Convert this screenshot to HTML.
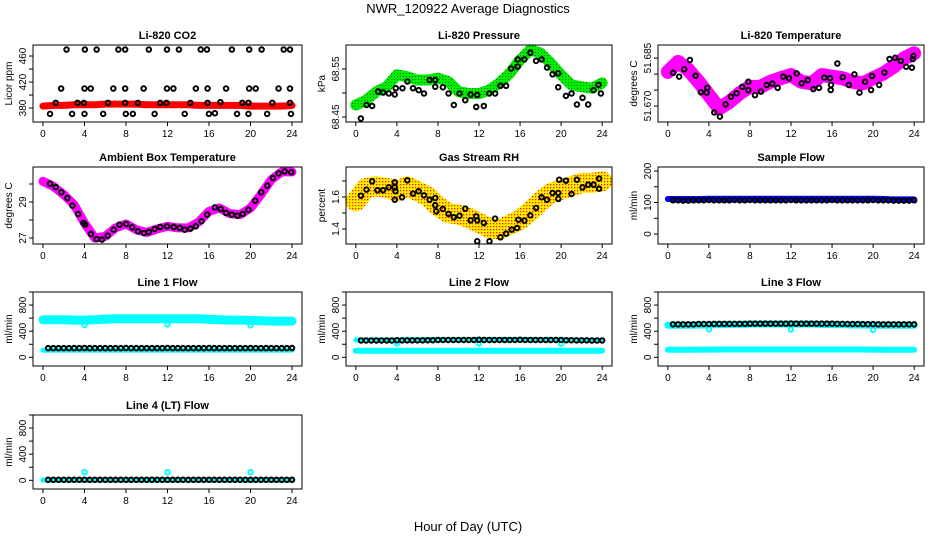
<!DOCTYPE html>
<html><head><meta charset="utf-8"><style>
html,body{margin:0;padding:0;background:#fff;}
svg{display:block;font-family:"Liberation Sans",Arial,sans-serif;}
</style></head><body>
<svg id="chart" width="936" height="540" viewBox="0 0 936 540" xmlns="http://www.w3.org/2000/svg">
<defs>
<pattern id="pgreen" width="3" height="3" patternUnits="userSpaceOnUse"><rect width="3" height="3" fill="#00ee00"/><rect x="1" y="1" width="1" height="1" fill="#226622"/></pattern>
<pattern id="pyellow" width="3" height="3" patternUnits="userSpaceOnUse"><rect width="3" height="3" fill="#ffee00"/><rect x="1" y="1" width="1.3" height="1.3" fill="#ee2200"/></pattern>
</defs>
<text x="468" y="13" text-anchor="middle" font-size="13">NWR_120922  Average Diagnostics</text>
<text x="468" y="531" text-anchor="middle" font-size="13">Hour of Day (UTC)</text>
</svg>
<script>
// ---- data ----
const hours = [0,1,2,3,4,5,6,7,8,9,10,11,12,13,14,15,16,17,18,19,20,21,22,23,24];
const halfHours = [0.5,1,1.5,2,2.5,3,3.5,4,4.5,5,5.5,6,6.5,7,7.5,8,8.5,9,9.5,10,10.5,11,11.5,12,12.5,13,13.5,14,14.5,15,15.5,16,16.5,17,17.5,18,18.5,19,19.5,20,20.5,21,21.5,22,22.5,23,23.5,24];
const co2Band = [383,384,384,385,385,385,386,386,386,386,385,385,385,385,385,384,384,384,384,384,383,383,383,383,384];
const co2BlackH = [2.27,4.04,5.17,7.27,7.92,10.2,11.95,13.1,15.2,15.8,18.2,19.87,21.07,23.2,23.8,
 1.75,4.0,4.6,6.78,7.92,9.7,11.95,12.57,14.73,15.86,17.64,19.87,20.5,22.7,23.8,
 1.23,3.33,3.94,6.26,7.92,9.14,11.3,11.9,14.2,15.86,17.1,19.2,19.8,22.1,23.8,
 0.68,2.81,4.0,5.8,7.98,8.66,10.76,13.66,15.99,16.57,18.7,19.8,21.6,23.9];
const co2BlackV = [470,470,470,470,470,470,470,470,470,470,470,470,470,470,470,
 410,410,410,410,410,410,410,410,410,410,410,410,410,410,410,
 388,388,388,388,388,388,388,388,388,388,389,388,388,388,388,
 371,371,371,371,371,371,371,371,371,372,371,371,371,371];
const presBand = [68.475,68.485,68.503,68.513,68.538,68.534,68.527,68.527,68.531,68.524,68.503,68.499,68.499,68.506,68.521,68.541,68.569,68.590,68.583,68.562,68.538,68.517,68.513,68.510,68.521];
const presBlackH = [0.49,1.04,1.59,2.17,2.66,3.21,3.79,3.89,4.54,5.02,5.57,6.12,6.64,7.19,7.74,7.74,8.48,9.03,9.55,10.1,10.66,11.18,11.73,11.83,12.47,13.0,13.57,14.09,14.64,15.13,15.77,15.77,16.42,17.0,17.56,18.1,18.63,19.17,19.72,19.72,20.47,21.02,21.54,22.09,22.64,23.16,23.64,23.88];
const presBlackV = [68.447,68.475,68.473,68.503,68.501,68.499,68.497,68.510,68.510,68.524,68.510,68.506,68.499,68.527,68.513,68.527,68.512,68.499,68.475,68.499,68.485,68.497,68.471,68.496,68.473,68.499,68.499,68.515,68.515,68.551,68.570,68.555,68.570,68.584,68.567,68.570,68.553,68.539,68.541,68.512,68.494,68.499,68.476,68.490,68.476,68.506,68.517,68.499];
const tempBand = [51.6807,51.6838,51.6813,51.6776,51.6734,51.6693,51.6713,51.6740,51.6760,51.6760,51.6776,51.6787,51.6797,51.6776,51.6771,51.6797,51.6792,51.6787,51.6776,51.6771,51.6787,51.6802,51.6823,51.6849,51.6865];
const tempBlackH = [0.52,1.1,1.59,2.15,2.7,3.22,3.77,3.84,4.52,5.07,5.63,6.15,6.7,7.25,7.84,7.84,8.49,9.07,9.63,10.18,10.7,11.25,11.8,12.55,13.04,13.63,14.18,14.73,15.25,15.8,15.9,15.87,16.52,17.04,17.63,18.18,18.67,19.22,19.8,19.9,20.59,21.1,21.6,22.15,22.7,23.22,23.78,23.87,23.93];
const tempBlackV = [51.6804,51.6792,51.6815,51.6844,51.6795,51.6743,51.6742,51.6757,51.6680,51.6667,51.6705,51.6729,51.6740,51.6760,51.6750,51.6776,51.6734,51.6745,51.6766,51.6770,51.6757,51.6792,51.6787,51.6802,51.6771,51.6781,51.6753,51.6757,51.6789,51.6787,51.6766,51.6750,51.6833,51.6790,51.6766,51.6799,51.6742,51.6776,51.6750,51.6794,51.6766,51.6805,51.6847,51.6851,51.6841,51.6823,51.6820,51.6847,51.6857];
const ambBand = [30.15,29.87,29.41,28.85,27.83,27.0,27.09,27.56,27.78,27.46,27.31,27.5,27.65,27.56,27.56,27.89,28.48,28.67,28.35,28.3,28.67,29.41,30.24,30.67,30.67];
const ambBlackH = [0.68,1.23,1.78,2.35,2.84,3.39,3.9,4.07,4.62,5.17,5.69,6.24,6.82,7.37,8.02,8.6,9.15,9.73,10.2,10.76,11.3,11.95,12.6,13.17,13.66,14.21,14.73,15.28,15.83,16.57,17.12,17.64,18.19,18.74,19.25,19.8,20.45,21.03,21.61,22.16,22.7,23.29,23.93];
const ambBlackV = [30.02,29.83,29.54,29.22,28.8,28.33,27.83,27.74,27.22,26.94,26.91,27.13,27.46,27.74,27.78,27.59,27.37,27.28,27.33,27.5,27.61,27.65,27.61,27.56,27.46,27.52,27.65,27.93,28.3,28.7,28.61,28.39,28.3,28.24,28.33,28.57,29.07,29.54,29.91,30.33,30.59,30.7,30.65];
const rhBand = [1.573,1.656,1.667,1.656,1.636,1.667,1.636,1.604,1.542,1.5,1.49,1.469,1.438,1.406,1.396,1.427,1.458,1.51,1.573,1.625,1.646,1.667,1.688,1.688,1.698];
const rhBlackH = [0.49,1.04,1.59,2.1,2.65,3.21,3.79,3.79,3.86,3.79,4.5,5.02,5.57,6.12,6.64,7.19,7.74,7.74,7.84,8.48,9.03,9.55,10.1,10.66,11.18,11.73,11.83,11.83,12.47,13.02,13.57,14.09,14.64,15.19,15.71,15.84,16.42,17.0,17.56,18.1,18.63,19.17,19.73,19.73,19.82,20.47,21.02,21.54,22.09,22.64,23.16,23.7,23.7];
const rhBlackV = [1.608,1.646,1.698,1.642,1.642,1.66,1.692,1.66,1.636,1.583,1.598,1.704,1.621,1.636,1.61,1.583,1.594,1.548,1.51,1.525,1.494,1.473,1.483,1.527,1.454,1.479,1.454,1.323,1.438,1.323,1.465,1.348,1.371,1.396,1.406,1.458,1.452,1.485,1.531,1.598,1.583,1.625,1.588,1.625,1.708,1.702,1.619,1.708,1.66,1.677,1.677,1.652,1.715];
const sampleBand = [111,111,111,111,112,112,112,112,112,112,112,112,112,112,112,112,112,112,112,112,112,111,110,110,110];
const sampleBlack = [107,107,106,106,107,107,107,108,107,107,107,107,108,107,107,108,107,107,107,107,107,107,107,108,107,107,107,107,107,107,107,108,107,107,107,107,107,107,107,108,107,107,107,106,106,106,106,107];
const line1Hi = [575,575,575,570,570,575,585,590,590,590,590,590,590,590,590,590,580,575,570,570,565,560,555,555,555];
const line1Lo = [108,110,110,110,110,110,110,110,110,110,110,110,110,110,110,110,110,110,110,110,110,110,110,110,110];
const line1Black = [140,140,140,140,140,140,140,142,140,140,140,140,140,140,140,142,140,140,140,140,140,140,140,142,140,140,140,140,140,140,140,142,140,140,140,140,140,140,140,142,140,140,140,140,140,140,140,142];
const line2Hi = [265,265,265,265,265,268,268,268,270,270,270,270,272,272,272,272,272,272,270,270,268,265,262,260,260];
const line2Lo = [100,100,100,100,100,100,100,100,100,100,100,100,100,100,100,100,100,100,100,100,100,100,100,100,100];
const line2Black = [258,258,258,258,258,258,258,262,260,260,260,260,260,262,262,265,265,265,265,265,265,265,265,268,266,266,266,266,266,266,266,268,266,266,266,266,266,266,266,266,262,262,260,260,260,258,258,258];
const line3Hi = [490,490,490,495,495,500,505,505,510,510,510,510,510,510,510,505,500,500,495,495,490,490,490,490,490];
const line3Lo = [115,115,115,118,118,120,120,120,120,120,120,120,120,120,120,120,120,120,120,120,118,115,115,115,115];
const line3Black = [505,505,505,505,505,510,510,510,512,512,512,512,512,512,512,515,515,515,515,515,515,515,515,517,515,515,515,515,515,515,515,515,512,512,510,510,510,508,508,508,505,505,505,505,505,505,505,505];
const line4Lo = [5,5,5,5,5,5,5,5,5,5,5,5,5,5,5,5,5,5,5,5,5,5,5,5,5];
const line4Black = [8,8,8,8,8,8,8,8,8,8,8,8,8,8,8,8,8,8,8,8,8,8,8,8,8,8,8,8,8,8,8,8,8,8,8,8,8,8,8,8,8,8,8,8,8,8,8,8];
const spikeH = [4,12,20];
const line1Dips = [495,505,490];
const line2Dips = [215,215,210];
const line3Dips = [430,425,420];
const line4Spikes = [125,125,125];
const xTicks = [0,4,8,12,16,20,24];

// ---- layout ----
const NS = 'http://www.w3.org/2000/svg';
const svg = document.getElementById('chart');
const colBox = [[33,302],[346,612],[658,924]];
const rowBox = [[45,122],[167,244],[292,366],[415,489]];
function mk(tag, attrs, parent){const e=document.createElementNS(NS,tag);for(const k in attrs)e.setAttribute(k,attrs[k]);(parent||svg).appendChild(e);return e;}

function panel(cfg){
  const [L,R]=colBox[cfg.col],[T,B]=rowBox[cfg.row];
  const w=R-L, span=w/1.08;
  const xs=h=>L+w*0.037037+h*(span/24);
  const ys=v=>T+(cfg.ylim[1]-v)/(cfg.ylim[1]-cfg.ylim[0])*(B-T);
  const g=mk('g',{});
  
  
  const title=mk('text',{x:(L+R)/2,y:T-6,'text-anchor':'middle','font-size':'11','font-weight':'bold'},g);
  title.textContent=cfg.title;
  
  
  const plot=mk('g',{},g);
  
  
  cfg.draw(plot,xs,ys);
  const box=mk('rect',{x:L,y:T,width:w,height:B-T,fill:'none',stroke:'#000','stroke-width':'1'},g);
  
  
  const xa=mk('g',{},g);
  
  
  mk('line',{x1:xs(0),x2:xs(24),y1:B,y2:B,stroke:'#000'},xa);
  xTicks.forEach(t=>{mk('line',{x1:xs(t),x2:xs(t),y1:B,y2:B+4,stroke:'#000'},xa);
    const tx=mk('text',{x:xs(t),y:B+15,'text-anchor':'middle','font-size':'10'},xa);tx.textContent=t;});
  const ya=mk('g',{},g);
  
  
  const tk=cfg.yticks;
  mk('line',{x1:L,x2:L,y1:ys(tk[0]),y2:ys(tk[tk.length-1]),stroke:'#000'},ya);
  tk.forEach(t=>mk('line',{x1:L-4,x2:L,y1:ys(t),y2:ys(t),stroke:'#000'},ya));
  cfg.ylabels.forEach(t=>{const yy=ys(t);const tx=mk('text',{x:L-7,y:yy,'text-anchor':'middle','font-size':'10',transform:`rotate(-90 ${L-7} ${yy})`},ya);tx.textContent=cfg.fmt?cfg.fmt(t):t;});
  const yl=mk('text',{x:L-21,y:(T+B)/2,'text-anchor':'middle','font-size':'10',transform:`rotate(-90 ${L-21} ${(T+B)/2})`},ya);
  yl.textContent=cfg.ylab;
  
  
}
function band(p,xs,ys,hs,vs,stroke,width,name){
  const pl=mk('polyline',{points:hs.map((h,i)=>xs(h)+','+ys(vs[i])).join(' '),fill:'none',stroke:stroke,'stroke-width':width,'stroke-linejoin':'round','stroke-linecap':'round'},p);
  
  
}
function pts(p,xs,ys,hs,vs,color,name,r){
  const g=mk('g',{},p);
  
  
  hs.forEach((h,i)=>{const c=mk('circle',{cx:xs(h),cy:ys(vs[i]),r:r||2.3,fill:'none',stroke:color,'stroke-width':'1.9'},g);
    
    });
}
const flowTicks=[0,200,400,600,800,1000], flowLabels=[0,400,800];
panel({name:'co2-panel',col:0,row:0,title:'Li-820 CO2',ylab:'Licor ppm',ylim:[358.5,477],yticks:[380,400,420,440,460],ylabels:[380,420,460],
  draw:(p,xs,ys)=>{band(p,xs,ys,hours,co2Band,'#ff0000',7,'co2-band');pts(p,xs,ys,co2BlackH,co2BlackV,'#000','co2-averages');}});
panel({name:'pressure-panel',col:1,row:0,title:'Li-820 Pressure',ylab:'kPa',ylim:[68.4396,68.600],yticks:[68.45,68.50,68.55],ylabels:[68.45,68.55],fmt:t=>t.toFixed(2),
  draw:(p,xs,ys)=>{band(p,xs,ys,hours,presBand,'url(#pgreen)',11,'pressure-band');pts(p,xs,ys,presBlackH,presBlackV,'#000','pressure-averages');}});
panel({name:'temperature-panel',col:2,row:0,title:'Li-820 Temperature',ylab:'degrees C',ylim:[51.665,51.6891],yticks:[51.670,51.675,51.680,51.685],ylabels:[51.670,51.685],fmt:t=>t.toFixed(3),
  draw:(p,xs,ys)=>{band(p,xs,ys,hours,tempBand,'#ff00ff',14,'temperature-band');pts(p,xs,ys,tempBlackH,tempBlackV,'#000','temperature-averages');}});
panel({name:'ambient-panel',col:0,row:1,title:'Ambient Box Temperature',ylab:'degrees C',ylim:[26.667,30.944],yticks:[27,28,29,30],ylabels:[27,29],
  draw:(p,xs,ys)=>{band(p,xs,ys,hours,ambBand,'#ff00ff',9,'ambient-band');pts(p,xs,ys,ambBlackH,ambBlackV,'#000','ambient-averages');}});
panel({name:'rh-panel',col:1,row:1,title:'Gas Stream RH',ylab:'percent',ylim:[1.306,1.7875],yticks:[1.4,1.5,1.6,1.7],ylabels:[1.4,1.6],fmt:t=>t.toFixed(1),
  draw:(p,xs,ys)=>{band(p,xs,ys,hours,rhBand,'url(#pyellow)',20,'rh-band');pts(p,xs,ys,rhBlackH,rhBlackV,'#000','rh-averages');}});
panel({name:'sample-flow-panel',col:2,row:1,title:'Sample Flow',ylab:'ml/min',ylim:[-31.7,212.7],yticks:[0,50,100,150,200],ylabels:[0,100,200],
  draw:(p,xs,ys)=>{band(p,xs,ys,hours,sampleBand,'#0000ff',6,'sample-band');pts(p,xs,ys,halfHours,sampleBlack,'#000','sample-averages');}});
panel({name:'line1-panel',col:0,row:2,title:'Line 1 Flow',ylab:'ml/min',ylim:[-133,1000],yticks:flowTicks,ylabels:flowLabels,
  draw:(p,xs,ys)=>{band(p,xs,ys,hours,line1Hi,'#00ffff',9,'line1-band');band(p,xs,ys,hours,line1Lo,'#00ffff',5,'line1-low-band');pts(p,xs,ys,spikeH,line1Dips,'#00ffff','line1-dips');pts(p,xs,ys,halfHours,line1Black,'#000','line1-averages');}});
panel({name:'line2-panel',col:1,row:2,title:'Line 2 Flow',ylab:'ml/min',ylim:[-133,1000],yticks:flowTicks,ylabels:flowLabels,
  draw:(p,xs,ys)=>{band(p,xs,ys,hours,line2Hi,'#00ffff',5,'line2-band');band(p,xs,ys,hours,line2Lo,'#00ffff',6,'line2-low-band');pts(p,xs,ys,spikeH,line2Dips,'#00ffff','line2-dips');pts(p,xs,ys,halfHours,line2Black,'#000','line2-averages');}});
panel({name:'line3-panel',col:2,row:2,title:'Line 3 Flow',ylab:'ml/min',ylim:[-133,1000],yticks:flowTicks,ylabels:flowLabels,
  draw:(p,xs,ys)=>{band(p,xs,ys,hours,line3Hi,'#00ffff',7,'line3-band');band(p,xs,ys,hours,line3Lo,'#00ffff',6,'line3-low-band');pts(p,xs,ys,spikeH,line3Dips,'#00ffff','line3-dips');pts(p,xs,ys,halfHours,line3Black,'#000','line3-averages');}});
panel({name:'line4-panel',col:0,row:3,title:'Line 4 (LT) Flow',ylab:'ml/min',ylim:[-133,1000],yticks:flowTicks,ylabels:flowLabels,
  draw:(p,xs,ys)=>{band(p,xs,ys,hours,line4Lo,'#00ffff',5,'line4-band');pts(p,xs,ys,spikeH,line4Spikes,'#00ffff','line4-spikes');pts(p,xs,ys,halfHours,line4Black,'#000','line4-averages');}});
</script>
</body></html>
